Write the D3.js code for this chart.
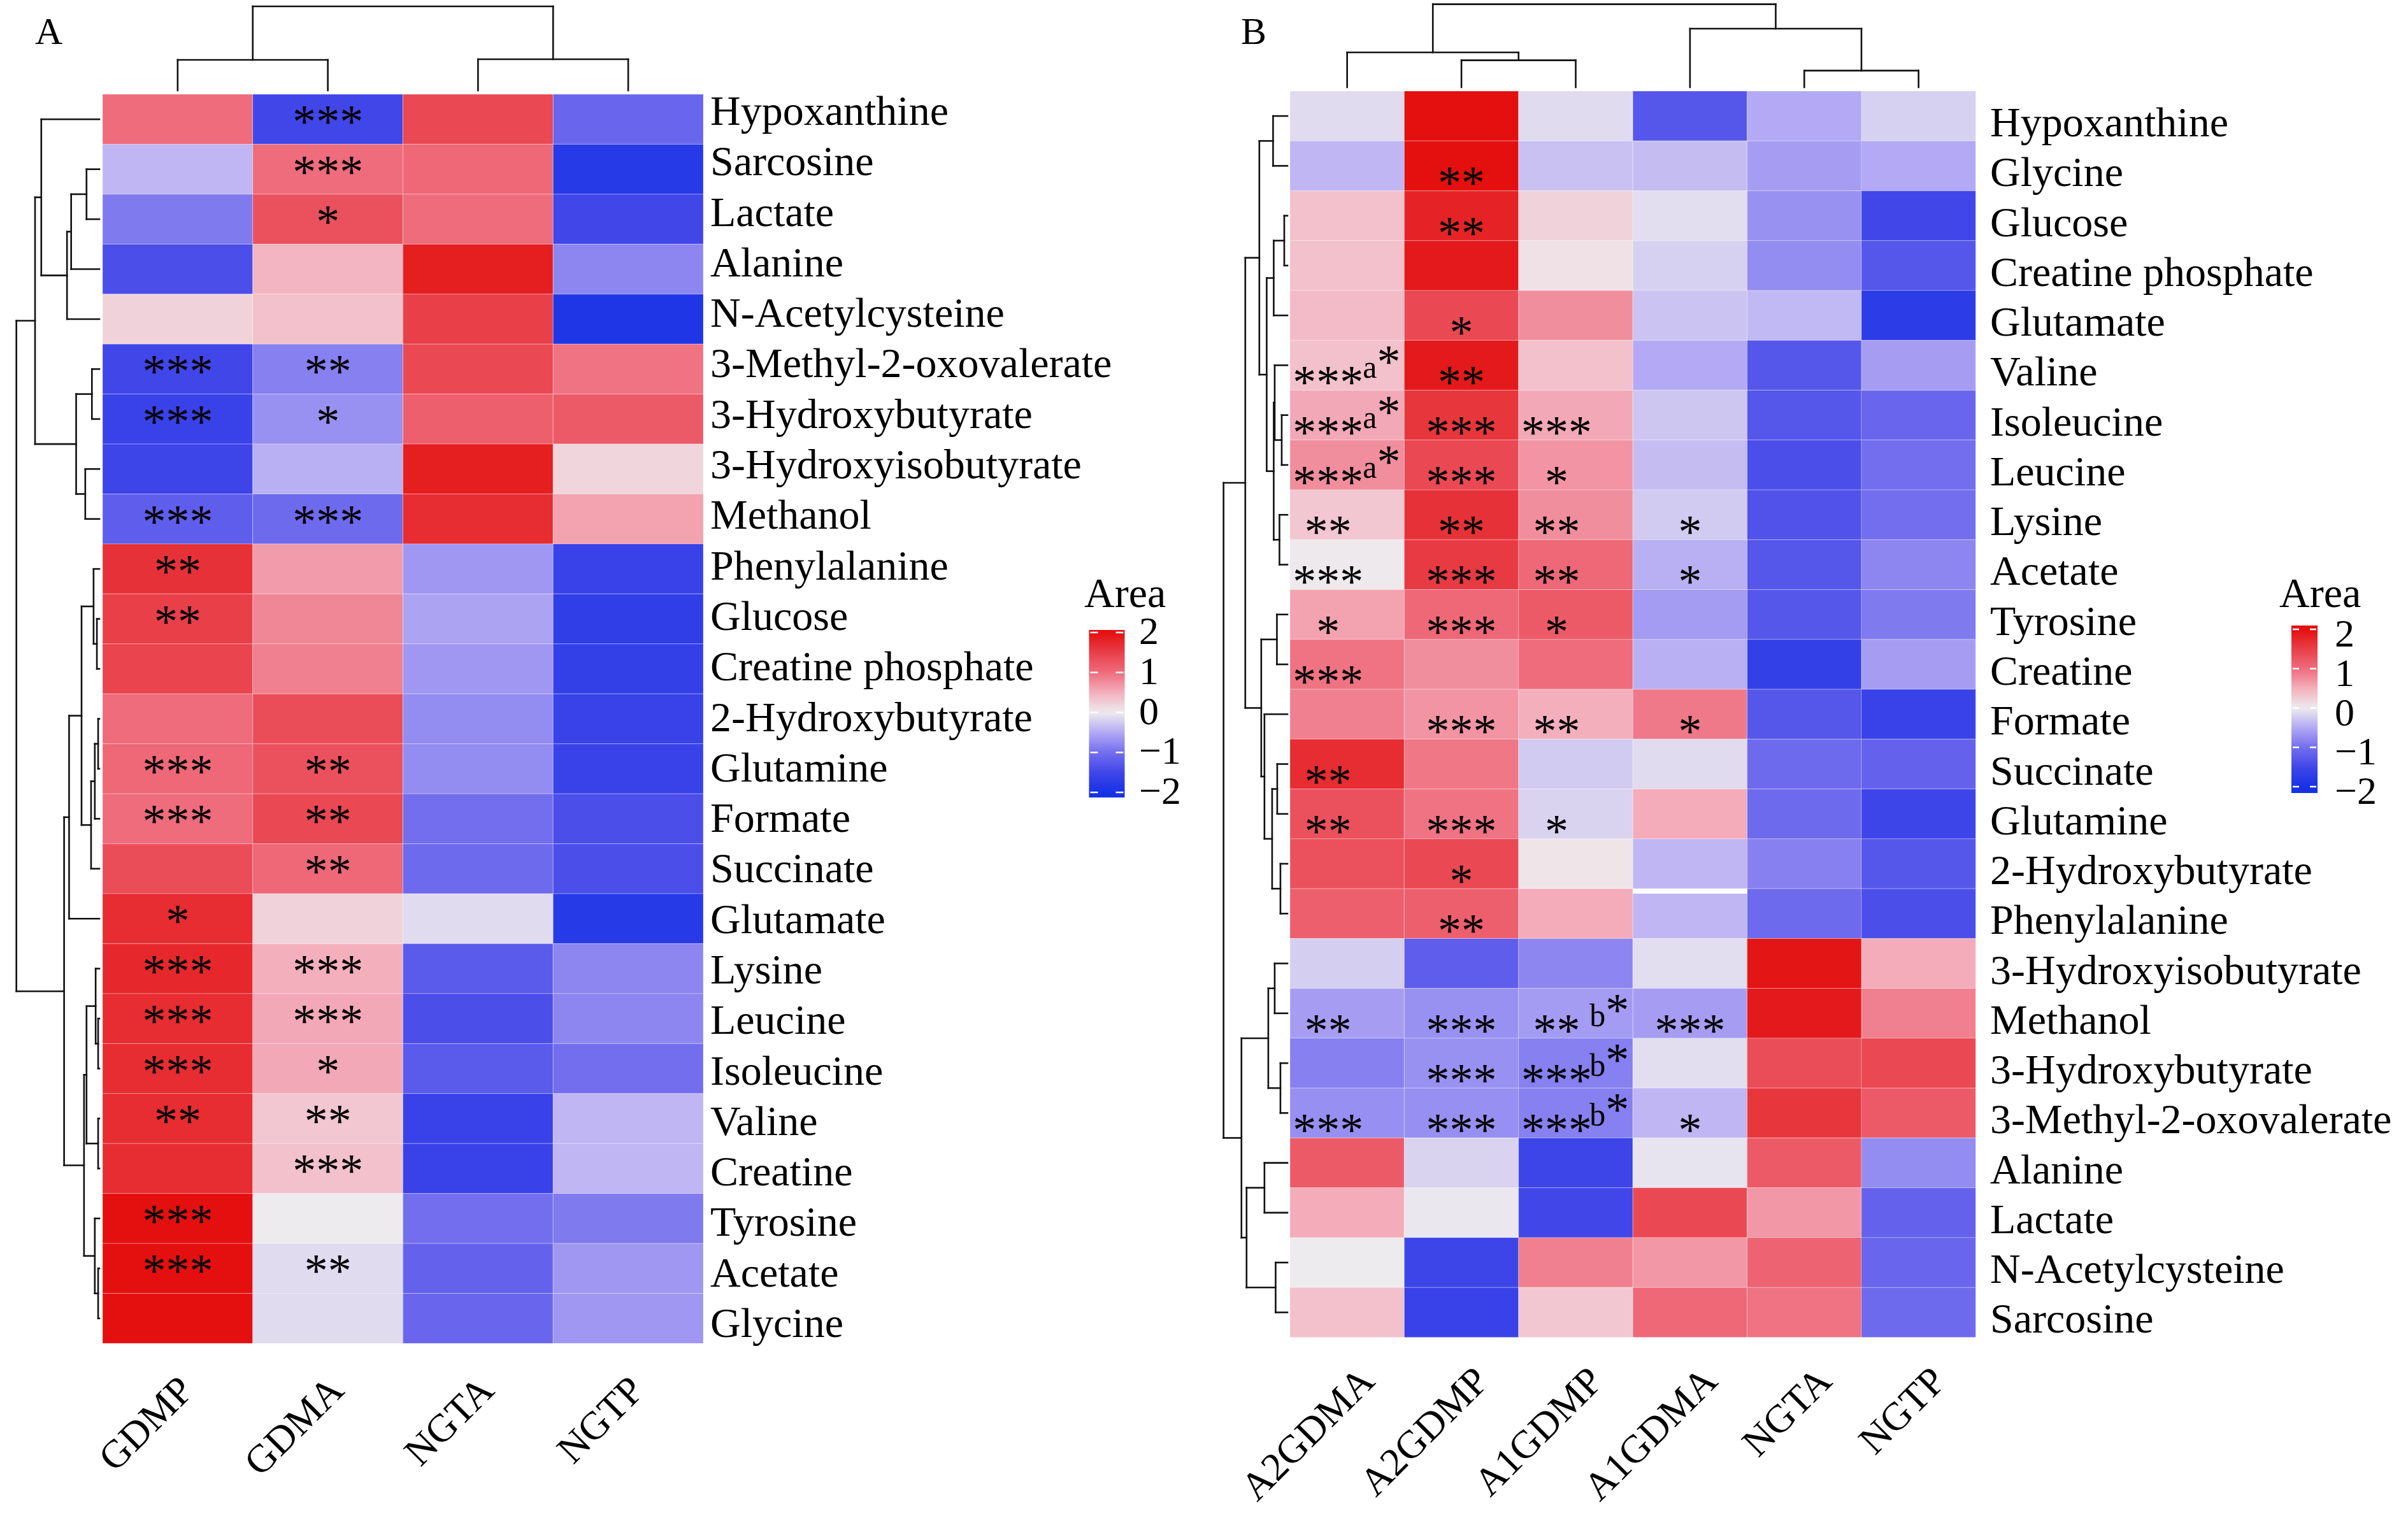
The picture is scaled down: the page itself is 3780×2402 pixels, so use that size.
<!DOCTYPE html>
<html><head><meta charset="utf-8">
<script src="https://cdn.jsdelivr.net/npm/d3@7"></script>
<style>
html,body{margin:0;padding:0;background:#fff;}
svg text{font-family:"Liberation Serif","Times New Roman",serif;fill:#000;}
</style></head><body>
<svg id="chart" width="3780" height="2402"></svg>
<script>
// ---------------- Panel A data ----------------
const colsA = ["GDMP","GDMA","NGTA","NGTP"];
const rowsA = ["Hypoxanthine","Sarcosine","Lactate","Alanine","N-Acetylcysteine","3-Methyl-2-oxovalerate","3-Hydroxybutyrate","3-Hydroxyisobutyrate","Methanol","Phenylalanine","Glucose","Creatine phosphate","2-Hydroxybutyrate","Glutamine","Formate","Succinate","Glutamate","Lysine","Leucine","Isoleucine","Valine","Creatine","Tyrosine","Acetate","Glycine"];
const valuesA = [
[1.0,-1.5,1.4,-1.1],
[-0.4,1.0,1.05,-1.8],
[-0.9,1.3,1.0,-1.5],
[-1.4,0.45,1.85,-0.8],
[0.2,0.35,1.5,-1.9],
[-1.5,-0.85,1.4,0.95],
[-1.6,-0.7,1.15,1.2],
[-1.55,-0.45,1.85,0.18],
[-1.2,-1.05,1.7,0.6],
[1.65,0.65,-0.65,-1.6],
[1.5,0.8,-0.55,-1.7],
[1.45,0.85,-0.65,-1.65],
[1.0,1.35,-0.75,-1.6],
[1.05,1.3,-0.75,-1.6],
[1.0,1.4,-1.0,-1.4],
[1.35,1.05,-1.05,-1.4],
[1.7,0.2,-0.12,-1.8],
[1.75,0.5,-1.25,-0.8],
[1.7,0.55,-1.4,-0.8],
[1.7,0.55,-1.25,-1.0],
[1.7,0.3,-1.6,-0.4],
[1.7,0.35,-1.6,-0.4],
[2.0,0.0,-1.0,-0.9],
[2.0,-0.12,-1.15,-0.65],
[2.1,-0.12,-1.1,-0.65]
];
const starsA = [
["","***","",""],["","***","",""],["","*","",""],["","","",""],["","","",""],
["***","**","",""],["***","*","",""],["","","",""],["***","***","",""],["**","","",""],
["**","","",""],["","","",""],["","","",""],["***","**","",""],["***","**","",""],
["","**","",""],["*","","",""],["***","***","",""],["***","***","",""],["***","*","",""],
["**","**","",""],["","***","",""],["***","","",""],["***","**","",""],["","","",""]
];
const rowTreeA = {h:10, c:[
  {h:7.75, c:[
    {h:7.0, c:["Hypoxanthine", {h:3.9, c:[{h:3.4, c:[{h:1.55, c:["Sarcosine","Lactate"]}, "Alanine"]}, "N-Acetylcysteine"]}]},
    {h:2.8, c:[{h:0.9, c:["3-Methyl-2-oxovalerate","3-Hydroxybutyrate"]}, {h:1.7, c:["3-Hydroxyisobutyrate","Methanol"]}]}
  ]},
  {h:4.25, c:[
    {h:3.65, c:[{h:2.15, c:[{h:0.7, c:["Phenylalanine", {h:0.3, c:["Glucose","Creatine phosphate"]}]}, {h:1.0, c:[{h:0.55, c:[{h:0.15, c:["2-Hydroxybutyrate","Glutamine"]}, "Formate"]}, "Succinate"]}]}, "Glutamate"]},
    {h:1.85, c:[{h:1.55, c:[{h:0.45, c:["Lysine", {h:0.15, c:["Leucine","Isoleucine"]}]}, {h:0.15, c:["Valine","Creatine"]}]}, {h:0.55, c:["Tyrosine", {h:0.15, c:["Acetate","Glycine"]}]}]}
  ]}
]};
const colTreeA = {h:10, c:[{h:3.64, c:["GDMP","GDMA"]}, {h:3.71, c:["NGTA","NGTP"]}]};

// ---------------- Panel B data ----------------
const colsB = ["A2GDMA","A2GDMP","A1GDMP","A1GDMA","NGTA","NGTP"];
const rowsB = ["Hypoxanthine","Glycine","Glucose","Creatine phosphate","Glutamate","Valine","Isoleucine","Leucine","Lysine","Acetate","Tyrosine","Creatine","Formate","Succinate","Glutamine","2-Hydroxybutyrate","Phenylalanine","3-Hydroxyisobutyrate","Methanol","3-Hydroxybutyrate","3-Methyl-2-oxovalerate","Alanine","Lactate","N-Acetylcysteine","Sarcosine"];
const valuesB = [
[-0.12,2.1,-0.12,-1.3,-0.5,-0.2],
[-0.4,2.1,-0.32,-0.35,-0.6,-0.5],
[0.35,1.8,0.2,-0.1,-0.7,-1.5],
[0.35,1.9,0.08,-0.2,-0.75,-1.3],
[0.4,1.4,0.75,-0.3,-0.38,-1.75],
[0.35,1.9,0.35,-0.5,-1.3,-0.6],
[0.55,1.6,0.55,-0.28,-1.3,-1.1],
[0.75,1.4,0.7,-0.35,-1.4,-1.0],
[0.3,1.65,0.75,-0.25,-1.35,-1.0],
[0.02,1.55,1.05,-0.45,-1.3,-0.8],
[0.6,1.05,1.2,-0.62,-1.3,-0.9],
[0.95,0.75,1.0,-0.45,-1.65,-0.6],
[0.85,0.7,0.5,0.9,-1.3,-1.6],
[1.7,0.92,-0.25,-0.12,-1.05,-1.15],
[1.3,0.95,-0.18,0.52,-1.05,-1.55],
[1.3,1.4,0.05,-0.4,-0.85,-1.3],
[1.15,1.15,0.52,-0.4,-1.05,-1.4],
[-0.22,-1.2,-0.8,-0.1,1.95,0.52],
[-0.6,-0.7,-0.62,-0.6,1.9,0.85],
[-0.85,-0.7,-0.85,-0.1,1.35,1.4],
[-0.72,-0.72,-0.85,-0.4,1.6,1.2],
[1.2,-0.18,-1.55,-0.05,1.2,-0.75],
[0.52,-0.03,-1.5,1.4,0.68,-1.15],
[0.0,-1.55,0.85,0.68,1.1,-1.1],
[0.35,-1.6,0.3,1.05,0.95,-1.05]
];
const starsB = [
["","","","","",""],["","**","","","",""],["","**","","","",""],["","","","","",""],["","*","","","",""],
["***","**","","","",""],["***","***","***","","",""],["***","***","*","","",""],["**","**","**","*","",""],["***","***","**","*","",""],
["*","***","*","","",""],["***","","","","",""],["","***","**","*","",""],["**","","","","",""],["**","***","*","","",""],
["","*","","","",""],["","**","","","",""],["","","","","",""],["**","***","**","***","",""],["","***","***","","",""],
["***","***","***","*","",""],["","","","","",""],["","","","","",""],["","","","","",""],["","","","","",""]
];
const notesRowB = ["Valine","Isoleucine","Leucine","Methanol","3-Hydroxybutyrate","3-Methyl-2-oxovalerate"];
const notesColB = ["A2GDMA","A2GDMA","A2GDMA","A1GDMP","A1GDMP","A1GDMP"];
const notesMarkB = ["a","a","a","b","b","b"];
const gapRowB = ["Phenylalanine"];
const gapColB = ["A1GDMA"];
const rowTreeB = {h:10, c:[
  {h:6.6, c:[
    {h:4.4, c:[{h:2.25, c:["Hypoxanthine","Glycine"]}, {h:3.25, c:[{h:2.15, c:[{h:0.5, c:["Glucose","Creatine phosphate"]}, "Glutamate"]}, {h:2.15, c:[{h:2.0, c:["Valine", {h:0.9, c:["Isoleucine","Leucine"]}]}, {h:1.25, c:["Lysine","Acetate"]}]}]}]},
    {h:4.1, c:[{h:1.65, c:["Tyrosine","Creatine"]}, {h:3.6, c:["Formate", {h:2.4, c:[{h:1.6, c:["Succinate","Glutamine"]}, {h:1.1, c:["2-Hydroxybutyrate","Phenylalanine"]}]}]}]}
  ]},
  {h:7.2, c:[
    {h:3.0, c:[{h:2.0, c:["3-Hydroxyisobutyrate","Methanol"]}, {h:1.1, c:["3-Hydroxybutyrate","3-Methyl-2-oxovalerate"]}]},
    {h:6.4, c:[{h:3.6, c:["Alanine","Lactate"]}, {h:1.85, c:["N-Acetylcysteine","Sarcosine"]}]}
  ]}
]};
const colTreeB = {h:10, c:[{h:4.2, c:["A2GDMA", {h:3.25, c:["A2GDMP","A1GDMP"]}]}, {h:7.05, c:["A1GDMA", {h:2.0, c:["NGTA","NGTP"]}]}]};

// legend
const legendTicks = [2,1,0,-1,-2];
const legendTickLabels = ["2","1","0","\u22121","\u22122"];
const legendTitle = "Area";

// palette
const colorStops = [-2,-1.5,-1,-0.5,0,0.5,1,1.5,2];
const colorRange = ["#1632e6","#4146e8","#736eee","#b3a9f4","#eeebee","#f4afbd","#ee6c7c","#e93f49","#e3100f"];
const color = d3.scaleLinear().domain(colorStops).range(colorRange).clamp(true);

const svg = d3.select("#chart");
svg.append("rect").attr("width",3780).attr("height",2402).attr("fill","#fff");
const defs = svg.append("defs");

function layoutTree(node, posOf){
  if (typeof node === "string") return {h:0, p:posOf(node)};
  const kids = node.c.map(k => layoutTree(k, posOf));
  return {h:node.h, p:d3.mean(kids, k=>k.p), kids};
}
function drawTree(g, t, hScale, orient){
  const segs = [];
  (function walk(n){
    if (!n.kids) return;
    const hv = hScale(n.h);
    segs.push([hv, n.kids[0].p, hv, n.kids[1].p]);
    n.kids.forEach(k => { segs.push([hScale(k.h), k.p, hv, k.p]); walk(k); });
  })(t);
  g.selectAll("line").data(segs).join("line")
    .attr("x1", s => orient==="row" ? s[0] : s[1])
    .attr("y1", s => orient==="row" ? s[1] : s[0])
    .attr("x2", s => orient==="row" ? s[2] : s[3])
    .attr("y2", s => orient==="row" ? s[3] : s[2])
    .attr("stroke","#111").attr("stroke-width",2.6).attr("stroke-linecap","square");
}

const STAR_SIZE = 74;

function drawPanel(cfg){
  const g = svg.append("g");
  const x = d3.scaleBand().domain(cfg.cols).range([cfg.x0, cfg.x1]);
  const y = d3.scaleBand().domain(cfg.rows).range([cfg.y0, cfg.y1]);
  const cells = [];
  cfg.rows.forEach((r,i)=>cfg.cols.forEach((c,j)=>cells.push({r,c,v:cfg.values[i][j],s:cfg.stars[i][j]})));
  g.append("g").selectAll("rect").data(cells).join("rect")
    .attr("x", d=>x(d.c)).attr("y", d=>y(d.r))
    .attr("width", x.bandwidth()).attr("height", y.bandwidth())
    .attr("fill", d=>color(d.v))
    .attr("stroke","rgba(255,255,255,0.25)").attr("stroke-width",1.2);
  if (cfg.gapRows) cfg.gapRows.forEach((r,i)=>{
    g.append("rect").attr("x", x(cfg.gapCols[i])).attr("y", y(r))
      .attr("width", x.bandwidth()).attr("height", y.bandwidth()*0.1).attr("fill","#fff");
  });
  const noteCols = new Set(cfg.notesCol || []);
  g.append("g").selectAll("text").data(cells.filter(d=>d.s)).join("text")
    .attr("x", d=>x(d.c)+x.bandwidth()/2 - (noteCols.has(d.c) ? x.bandwidth()/6 : 0))
    .attr("y", d=>y(d.r)+y.bandwidth()/2 + cfg.starDy)
    .attr("text-anchor","middle").attr("font-size",STAR_SIZE).text(d=>d.s);
  if (cfg.notesRow) cfg.notesRow.forEach((r,i)=>{
    const t = g.append("text")
      .attr("x", x(cfg.notesCol[i]) + x.bandwidth() - 6)
      .attr("y", y(r) + y.bandwidth()/2 + 20)
      .attr("text-anchor","end");
    t.append("tspan").attr("font-size",50).text(cfg.notesMark[i]);
    t.append("tspan").attr("font-size",STAR_SIZE).text("*");
  });
  g.append("g").selectAll("text").data(cfg.rows).join("text")
    .attr("x", cfg.labelX).attr("y", (r,i)=> cfg.labelY ? cfg.labelY(i) : y(r)+y.bandwidth()/2+cfg.labelDy)
    .attr("font-size",66).text(r=>r);
  g.append("g").selectAll("text").data(cfg.cols).join("text")
    .attr("transform", c=>`translate(${x(c)+x.bandwidth()/2+cfg.colLabDx},${cfg.y1+cfg.colLabDy}) rotate(-45)`)
    .attr("text-anchor","end").attr("font-size",62).text(c=>c);
  const rowH = d3.scaleLinear().domain([0,10]).range([cfg.rowLeaf, cfg.rowRoot]);
  drawTree(g.append("g"), layoutTree(cfg.rowTree, r=>y(r)+y.bandwidth()/2), rowH, "row");
  const colH = d3.scaleLinear().domain([0,10]).range([cfg.colLeaf, cfg.colRoot]);
  drawTree(g.append("g"), layoutTree(cfg.colTree, c=>x(c)+x.bandwidth()/2), colH, "col");
  g.append("text").attr("x", cfg.letterX).attr("y", 69).attr("font-size",60).text(cfg.letter);
  const L = cfg.legend;
  const ts = d3.scaleLinear().domain([-2,2]).range([L.tickBot, L.tickTop]);
  const gid = "grad"+cfg.letter;
  const grad = defs.append("linearGradient").attr("id",gid).attr("x1",0).attr("x2",0).attr("y1",0).attr("y2",1);
  d3.range(0,1.0001,0.025).forEach(t=>{
    const yy = L.yTop + t*(L.yBot-L.yTop);
    grad.append("stop").attr("offset", t).attr("stop-color", color(ts.invert(yy)));
  });
  const lg = g.append("g");
  lg.append("rect").attr("x",L.x0).attr("y",L.yTop).attr("width",L.x1-L.x0).attr("height",L.yBot-L.yTop).attr("fill",`url(#${gid})`);
  legendTicks.forEach((v,i)=>{
    const yy = ts(v);
    lg.append("line").attr("x1",L.x0+2).attr("x2",L.x0+2+L.dash).attr("y1",yy).attr("y2",yy).attr("stroke","#fff").attr("stroke-width",2.5);
    lg.append("line").attr("x1",L.x1-2-L.dash).attr("x2",L.x1-2).attr("y1",yy).attr("y2",yy).attr("stroke","#fff").attr("stroke-width",2.5);
    lg.append("text").attr("x",L.labelX).attr("y",yy+L.labelDy).attr("font-size",62).text(legendTickLabels[i]);
  });
  lg.append("text").attr("x",L.titleX).attr("y",953).attr("font-size",66).text(legendTitle);
}

drawPanel({
  letter:"A", letterX:55,
  rows:rowsA, cols:colsA, values:valuesA, stars:starsA,
  x0:161, x1:1104, y0:148, y1:2109,
  starDy:29,
  labelX:1115, labelY: d3.scaleLinear().domain([0,rowsA.length-1]).range([196,2099]),
  colLabDx:28, colLabDy:77,
  rowTree:rowTreeA, rowLeaf:156, rowRoot:25.7,
  colTree:colTreeA, colLeaf:142, colRoot:10,
  legend:{x0:1709.5, x1:1765.5, yTop:989, yBot:1252, tickTop:993, tickBot:1244, dash:12, labelX:1788, labelDy:18, titleX:1702}
});
drawPanel({
  letter:"B", letterX:1948,
  rows:rowsB, cols:colsB, values:valuesB, stars:starsB,
  notesRow:notesRowB, notesCol:notesColB, notesMark:notesMarkB,
  gapRows:gapRowB, gapCols:gapColB,
  x0:2025, x1:3101.4, y0:143, y1:2099.5,
  starDy:52,
  labelX:3124, labelDy:32,
  colLabDx:46, colLabDy:72,
  rowTree:rowTreeB, rowLeaf:2021, rowRoot:1920.7,
  colTree:colTreeB, colLeaf:137, colRoot:6.6,
  legend:{x0:3597, x1:3638, yTop:982, yBot:1245, tickTop:988, tickBot:1235, dash:10, labelX:3665, labelDy:27, titleX:3578}
});
</script></body></html>
